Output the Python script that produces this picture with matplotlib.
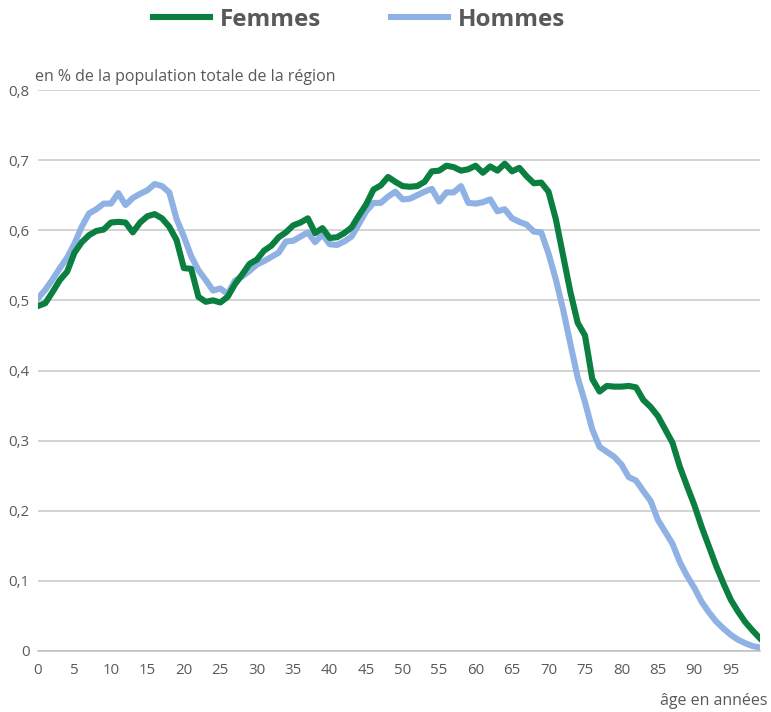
import matplotlib
matplotlib.use("Agg")
import matplotlib.pyplot as plt
import numpy as np

ages = list(range(0, 100))

femmes = [0.492, 0.496, 0.512, 0.529, 0.541, 0.568, 0.583, 0.593, 0.599, 0.601,
          0.611, 0.612, 0.611, 0.597, 0.611, 0.620, 0.623, 0.617, 0.605, 0.586,
          0.546, 0.545, 0.505, 0.498, 0.500, 0.497, 0.505, 0.523, 0.537, 0.552,
          0.558, 0.571, 0.578, 0.590, 0.597, 0.607, 0.611, 0.617, 0.596, 0.603,
          0.589, 0.590, 0.596, 0.604, 0.621, 0.637, 0.658, 0.664, 0.676, 0.669,
          0.663, 0.662, 0.663, 0.669, 0.684, 0.685, 0.692, 0.690, 0.685, 0.687,
          0.692, 0.682, 0.691, 0.685, 0.695, 0.684, 0.689, 0.677, 0.667, 0.668,
          0.655, 0.616, 0.564, 0.512, 0.468, 0.450, 0.388, 0.370, 0.378, 0.377,
          0.377, 0.378, 0.376, 0.358, 0.348, 0.335, 0.316, 0.297, 0.263, 0.235,
          0.208, 0.177, 0.149, 0.121, 0.096, 0.073, 0.056, 0.041, 0.029, 0.018]

hommes = [0.503, 0.515, 0.530, 0.546, 0.561, 0.581, 0.605, 0.624, 0.630, 0.638,
          0.638, 0.653, 0.636, 0.646, 0.652, 0.657, 0.666, 0.663, 0.654, 0.616,
          0.591, 0.563, 0.543, 0.529, 0.514, 0.517, 0.509, 0.528, 0.534, 0.542,
          0.551, 0.556, 0.562, 0.568, 0.584, 0.585, 0.591, 0.597, 0.583, 0.594,
          0.580, 0.579, 0.584, 0.591, 0.609, 0.627, 0.639, 0.639, 0.648, 0.655,
          0.644, 0.645, 0.650, 0.655, 0.659, 0.641, 0.654, 0.654, 0.663, 0.639,
          0.638, 0.640, 0.644, 0.627, 0.630, 0.617, 0.612, 0.608, 0.598, 0.597,
          0.567, 0.530, 0.487, 0.438, 0.390, 0.355, 0.316, 0.291, 0.284, 0.277,
          0.266, 0.248, 0.243, 0.228, 0.214, 0.187, 0.170, 0.153, 0.127, 0.107,
          0.090, 0.070, 0.055, 0.042, 0.032, 0.023, 0.016, 0.011, 0.007, 0.005]

x_ticks = list(range(0, 100, 5))
y_ticks = [0, 0.1, 0.2, 0.3, 0.4, 0.5, 0.6, 0.7, 0.8]
y_labels = ["0", "0,1", "0,2", "0,3", "0,4", "0,5", "0,6", "0,7", "0,8"]

GREEN = "#0B7F40"
BLUE = "#8FB1E3"
TXT = "#595959"

plt.rcParams['font.family'] = ['Open Sans', 'DejaVu Sans']

fig = plt.figure(figsize=(7.71, 7.12), dpi=100)
ax = fig.add_axes([38/771, 1-651/712, (760-38)/771, (651-90)/712])

ax.plot(ages, hommes, color=BLUE, lw=4.4, solid_joinstyle='round', label="Hommes", zorder=3)
ax.plot(ages, femmes, color=GREEN, lw=4.4, solid_joinstyle='round', label="Femmes", zorder=4)

ax.set_xlim(0, 99)
ax.set_ylim(0, 0.8)
ax.set_xticks(x_ticks)
ax.set_xticklabels([str(t) for t in x_ticks])
ax.set_yticks(y_ticks)
ax.set_yticklabels(y_labels)
ax.tick_params(axis='both', length=0, labelsize=10.8, labelcolor=TXT)
ax.tick_params(axis='y', pad=6)
ax.tick_params(axis='x', pad=9)
ax.grid(axis='y', color='#C8C8C8', lw=1.1)
ax.set_axisbelow(True)
for s in ['top', 'right', 'left']:
    ax.spines[s].set_visible(False)
ax.spines['bottom'].set_color('#BFBFBF')
ax.spines['bottom'].set_linewidth(1.1)

fig.text(35/771, 1-77/712, "en % de la population totale de la région",
         ha='left', va='center', fontsize=11.5, color=TXT)
fig.text(768/771, 1-701/712, "âge en années",
         ha='right', va='center', fontsize=11.5, color=TXT)

h, l = ax.get_legend_handles_labels()
leg = fig.legend([h[1], h[0]], [l[1], l[0]], loc='center',
                 bbox_to_anchor=(359/771, 1-20/712), ncol=2, frameon=False,
                 prop={'size': 17.5, 'weight': 'bold'}, labelcolor=TXT,
                 handlelength=2.35, handletextpad=0.4, columnspacing=2.9)

fig.savefig("out.png", dpi=100)
